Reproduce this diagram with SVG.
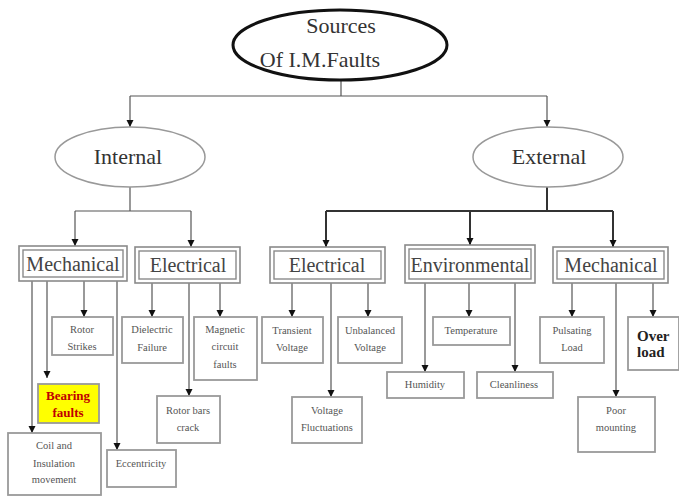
<svg xmlns="http://www.w3.org/2000/svg" width="679" height="497" viewBox="0 0 679 497">
<defs>
<marker id="ah" viewBox="0 0 8 8" refX="8" refY="4" markerWidth="7" markerHeight="8" markerUnits="userSpaceOnUse" orient="auto">
<path d="M0,0 L8,4 L0,8 Z" fill="#111"/>
</marker>
<style>
.bg{fill:#fff}
.ln{fill:none;stroke:#555;stroke-width:1.2}
.lnk{fill:none;stroke:#333;stroke-width:2}
.ell{fill:#fff;stroke:#999;stroke-width:1.5}
.cat{fill:#fff;stroke:#8a8a8a;stroke-width:1.6}
.cati{fill:none;stroke:#8a8a8a;stroke-width:1.4}
.leaf{fill:#fff;stroke:#9a9a9a;stroke-width:1.8}
.t{font-family:"Liberation Serif","Times New Roman",serif;text-anchor:middle}
.tt{font-size:22px;fill:#333}
.tm{font-size:22px;fill:#333}
.tc{font-size:20px;fill:#444}
.tl{font-size:10.5px;fill:#555}
</style>
</defs>
<rect class="bg" x="0" y="0" width="679" height="497"/>

<g id="connectors">
<path class="ln" d="M341,80 V96 M130,96 H547"/>
<path class="ln" d="M130,96 V127" marker-end="url(#ah)"/>
<path class="ln" d="M547,96 V127" marker-end="url(#ah)"/>
<path class="ln" d="M130,187 V211 M75,211 H191"/>
<path class="ln" d="M75,211 V246" marker-end="url(#ah)"/>
<path class="ln" d="M191,211 V247" marker-end="url(#ah)"/>
<path class="lnk" d="M547,187 V211 M326,211 H613"/>
<path class="lnk" d="M326,211 V247" marker-end="url(#ah)"/>
<path class="lnk" d="M470,211 V245" marker-end="url(#ah)"/>
<path class="lnk" d="M613,211 V247" marker-end="url(#ah)"/>
<path class="ln" d="M32,281 V433" marker-end="url(#ah)"/>
<path class="ln" d="M47,281 V378" marker-end="url(#ah)"/>
<path class="ln" d="M84,281 V317" marker-end="url(#ah)"/>
<path class="ln" d="M117,281 V450" marker-end="url(#ah)"/>
<path class="ln" d="M152,283 V317" marker-end="url(#ah)"/>
<path class="ln" d="M189,283 V396" marker-end="url(#ah)"/>
<path class="ln" d="M220,283 V317" marker-end="url(#ah)"/>
<path class="ln" d="M292,283 V317" marker-end="url(#ah)"/>
<path class="ln" d="M331,283 V397" marker-end="url(#ah)"/>
<path class="ln" d="M368,283 V317" marker-end="url(#ah)"/>
<path class="ln" d="M425,283 V372" marker-end="url(#ah)"/>
<path class="ln" d="M469,283 V317" marker-end="url(#ah)"/>
<path class="ln" d="M515,283 V372" marker-end="url(#ah)"/>
<path class="ln" d="M572,283 V317" marker-end="url(#ah)"/>
<path class="ln" d="M616,283 V397" marker-end="url(#ah)"/>
<path class="ln" d="M653,283 V317" marker-end="url(#ah)"/>
</g>

<g id="root">
<ellipse cx="340" cy="45" rx="107" ry="35" fill="#fff" stroke="#111" stroke-width="3"/>
<text class="t tt" x="341" y="33">Sources</text>
<text class="t tt" x="320" y="67">Of I.M.Faults</text>
</g>

<g id="internal">
<ellipse class="ell" cx="130" cy="157" rx="75" ry="30"/>
<text class="t tm" x="128" y="164">Internal</text>
</g>
<g id="external">
<ellipse class="ell" cx="548" cy="157" rx="75" ry="30"/>
<text class="t tm" x="549" y="164">External</text>
</g>

<g id="mech-int">
<rect class="cat" x="19" y="246" width="108" height="35"/>
<rect class="cati" x="23" y="250" width="100" height="27"/>
<text class="t tc" x="73" y="271">Mechanical</text>
</g>
<g id="elec-int">
<rect class="cat" x="135" y="247" width="105" height="36"/>
<rect class="cati" x="139" y="251" width="97" height="28"/>
<text class="t tc" x="188" y="272">Electrical</text>
</g>
<g id="elec-ext">
<rect class="cat" x="270" y="247" width="115" height="36"/>
<rect class="cati" x="274" y="251" width="107" height="28"/>
<text class="t tc" x="327" y="272">Electrical</text>
</g>
<g id="env">
<rect class="cat" x="405" y="245" width="130" height="38"/>
<rect class="cati" x="409" y="249" width="122" height="30"/>
<text class="t tc" x="470" y="272">Environmental</text>
</g>
<g id="mech-ext">
<rect class="cat" x="553" y="247" width="115" height="36"/>
<rect class="cati" x="557" y="251" width="107" height="28"/>
<text class="t tc" x="611" y="272">Mechanical</text>
</g>

<g id="rotor-strikes">
<rect class="leaf" x="52" y="317" width="61" height="38"/>
<text class="t tl" x="82" y="333">Rotor</text>
<text class="t tl" x="82" y="350">Strikes</text>
</g>
<g id="dielectric">
<rect class="leaf" x="122" y="317" width="61" height="46"/>
<text class="t tl" x="152" y="333">Dielectric</text>
<text class="t tl" x="152" y="351">Failure</text>
</g>
<g id="magnetic">
<rect class="leaf" x="194" y="317" width="63" height="63"/>
<text class="t tl" x="225" y="333">Magnetic</text>
<text class="t tl" x="225" y="350">circuit</text>
<text class="t tl" x="225" y="368">faults</text>
</g>
<g id="bearing">
<rect x="38" y="384" width="61" height="39" fill="#ffff00" stroke="#999" stroke-width="1.8"/>
<text class="t" x="68" y="400" font-size="13px" font-weight="bold" fill="#c00000">Bearing</text>
<text class="t" x="68" y="417" font-size="13px" font-weight="bold" fill="#c00000">faults</text>
</g>
<g id="rotor-bars">
<rect class="leaf" x="157" y="396" width="63" height="47"/>
<text class="t tl" x="188" y="414">Rotor bars</text>
<text class="t tl" x="188" y="431">crack</text>
</g>
<g id="coil">
<rect class="leaf" x="8" y="433" width="93" height="62"/>
<text class="t tl" x="54" y="449" fill="#556">Coil and</text>
<text class="t tl" x="54" y="467">Insulation</text>
<text class="t tl" x="54" y="483">movement</text>
</g>
<g id="eccentricity">
<rect class="leaf" x="107" y="450" width="69" height="37"/>
<text class="t tl" x="141" y="467">Eccentricity</text>
</g>
<g id="transient">
<rect class="leaf" x="262" y="317" width="61" height="46"/>
<text class="t tl" x="292" y="334">Transient</text>
<text class="t tl" x="292" y="351">Voltage</text>
</g>
<g id="unbalanced">
<rect class="leaf" x="338" y="317" width="64" height="46"/>
<text class="t tl" x="370" y="334">Unbalanced</text>
<text class="t tl" x="370" y="351">Voltage</text>
</g>
<g id="fluctuations">
<rect class="leaf" x="292" y="397" width="70" height="46"/>
<text class="t tl" x="327" y="414">Voltage</text>
<text class="t tl" x="327" y="431">Fluctuations</text>
</g>
<g id="temperature">
<rect class="leaf" x="433" y="317" width="77" height="28"/>
<text class="t tl" x="471" y="334">Temperature</text>
</g>
<g id="humidity">
<rect class="leaf" x="387" y="372" width="77" height="26"/>
<text class="t tl" x="425" y="388">Humidity</text>
</g>
<g id="cleanliness">
<rect class="leaf" x="477" y="372" width="76" height="26"/>
<text class="t tl" x="514" y="388">Cleanliness</text>
</g>
<g id="pulsating">
<rect class="leaf" x="540" y="317" width="64" height="46"/>
<text class="t tl" x="572" y="334">Pulsating</text>
<text class="t tl" x="572" y="351">Load</text>
</g>
<g id="overload">
<rect class="leaf" x="628" y="317" width="51" height="53"/>
<text x="637" y="341" font-family="'Liberation Serif','Times New Roman',serif" font-size="15px" font-weight="bold" fill="#222">Over</text>
<text x="637" y="357" font-family="'Liberation Serif','Times New Roman',serif" font-size="15px" font-weight="bold" fill="#222">load</text>
</g>
<g id="poor-mounting">
<rect class="leaf" x="578" y="397" width="77" height="55"/>
<text class="t tl" x="616" y="414">Poor</text>
<text class="t tl" x="616" y="431">mounting</text>
</g>
</svg>
